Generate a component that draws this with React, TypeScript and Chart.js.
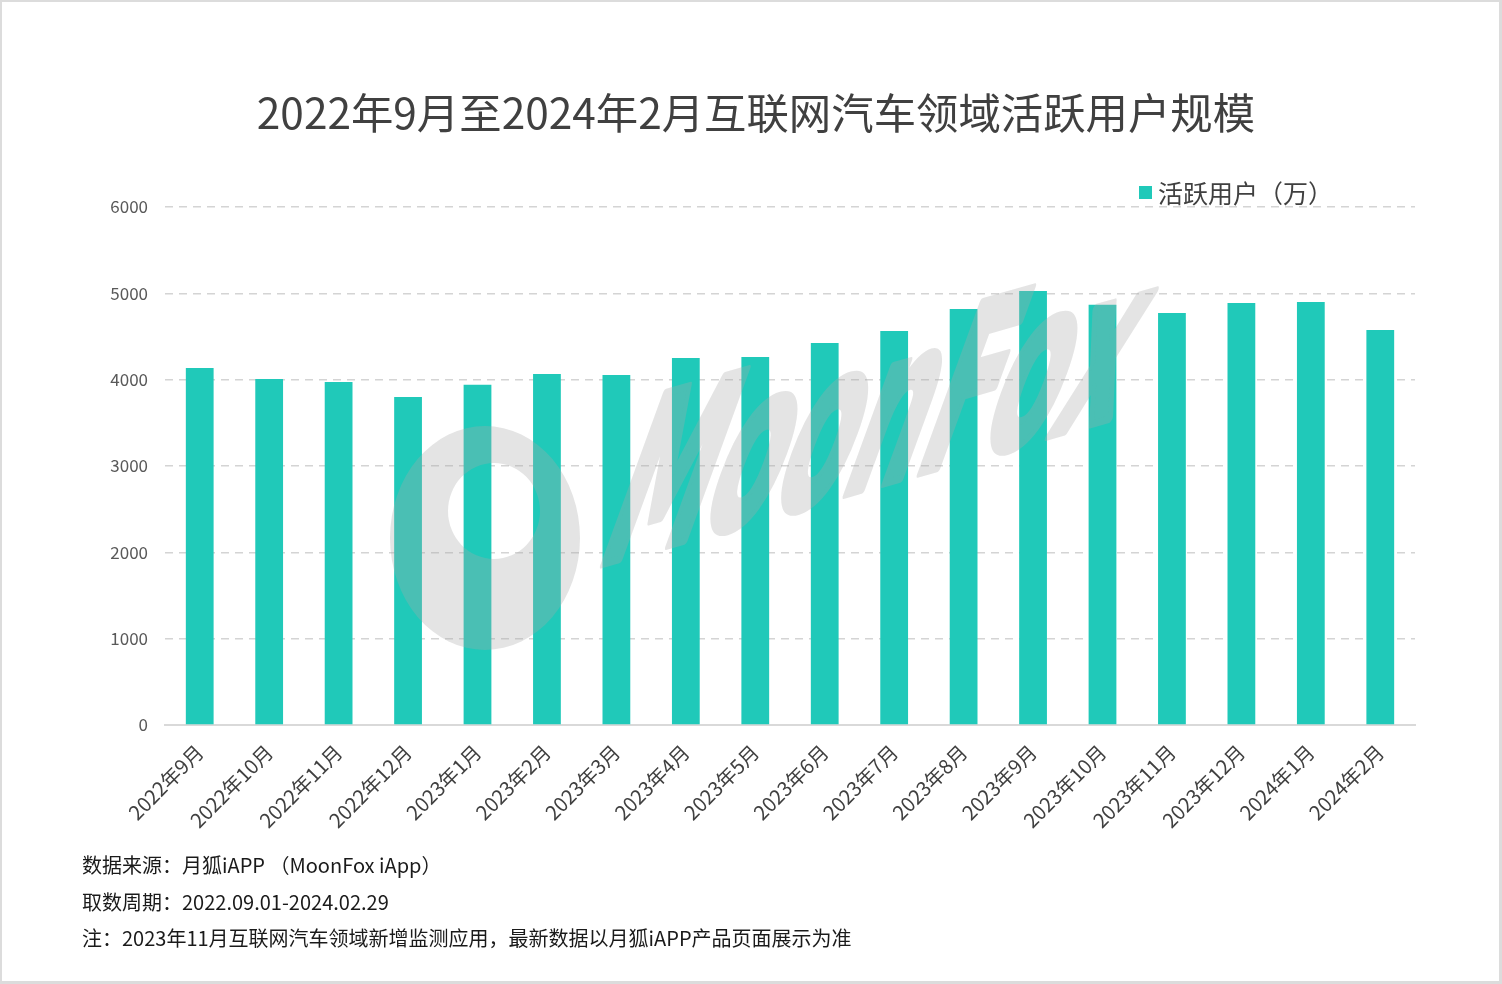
import React, { useEffect, useRef } from "react";
import { Chart, registerables } from "chart.js";

Chart.register(...registerables);

const chartTitle = "2022年9月至2024年2月互联网汽车领域活跃用户规模";
const seriesLabel = "活跃用户（万）";
const categories = [
  "2022年9月", "2022年10月", "2022年11月", "2022年12月",
  "2023年1月", "2023年2月", "2023年3月", "2023年4月", "2023年5月",
  "2023年6月", "2023年7月", "2023年8月", "2023年9月", "2023年10月",
  "2023年11月", "2023年12月", "2024年1月", "2024年2月",
];
const activeUsers = [
  4135, 4008, 3973, 3800, 3940, 4066, 4054, 4251, 4263,
  4425, 4564, 4819, 5027, 4869, 4772, 4888, 4900, 4575,
];
const yMin = 0;
const yMax = 6000;
const yStep = 1000;
const notes = [
  "数据来源：月狐iAPP （MoonFox iApp）",
  "取数周期：2022.09.01-2024.02.29",
  "注：2023年11月互联网汽车领域新增监测应用，最新数据以月狐iAPP产品页面展示为准",
];
const watermarkText = "MoonFox";

const FONT = '"Noto Sans CJK SC", "Noto Sans", sans-serif';
const TEAL = "#20C9B9";
const W = 1502;
const H = 984;

const watermarkPlugin = {
  id: "moonfoxWatermark",
  afterDatasetsDraw(chart: any) {
    const { ctx, chartArea, width, height } = chart;
    const ox = chartArea.left;
    const oy = chartArea.top;
    const off = document.createElement("canvas");
    off.width = width;
    off.height = height;
    const o = off.getContext("2d");
    if (!o) return;
    o.fillStyle = "rgb(169,169,169)";
    o.strokeStyle = "rgb(169,169,169)";
    // logo
    o.beginPath();
    o.ellipse(ox + 320, oy + 331, 95, 112, 0, 0, Math.PI * 2);
    o.ellipse(ox + 329, oy + 304, 46, 48, 0, 0, Math.PI * 2);
    o.fill("evenodd");
    // text (rotated + slanted)
    const a = (16 * Math.PI) / 180;
    const b = (20 * Math.PI) / 180;
    o.save();
    o.translate(ox + 428, oy + 360);
    o.transform(Math.cos(a), -Math.sin(a), -Math.sin(b), Math.cos(b), 0, 0);
    o.font = 'bold 250px "Liberation Sans Narrow", "DejaVu Sans Condensed", "Liberation Sans", sans-serif';
    o.textBaseline = "alphabetic";
    o.textAlign = "left";
    o.lineWidth = 9;
    o.lineJoin = "round";
    o.fillText(watermarkText, 0, 0, 540);
    o.strokeText(watermarkText, 0, 0, 540);
    o.restore();
    ctx.save();
    ctx.globalAlpha = 0.31;
    ctx.drawImage(off, 0, 0);
    ctx.restore();
  },
};

export default function App() {
  const canvasRef = useRef<HTMLCanvasElement | null>(null);

  useEffect(() => {
    if (!canvasRef.current) return;
    const chart = new Chart(canvasRef.current, {
      type: "bar",
      data: {
        labels: categories,
        datasets: [
          {
            label: seriesLabel,
            data: activeUsers,
            backgroundColor: TEAL,
            borderWidth: 0,
            categoryPercentage: 1,
            barPercentage: 0.4,
          },
        ],
      },
      options: {
        responsive: false,
        animation: false,
        devicePixelRatio: 1,
        layout: { padding: { top: 207, right: 87, bottom: 0, left: 0 } },
        plugins: {
          legend: { display: false },
          title: { display: false },
          tooltip: { enabled: false },
        },
        scales: {
          x: {
            grid: { display: false, drawTicks: false },
            border: { display: true, color: "#d9d9d9", width: 2 },
            ticks: {
              autoSkip: false,
              maxRotation: 45,
              minRotation: 45,
              padding: 15,
              color: "#404040",
              font: { family: FONT, size: 20 },
            },
            afterFit: (scale: any) => {
              scale.height = 259;
            },
          },
          y: {
            min: yMin,
            max: yMax,
            ticks: {
              stepSize: yStep,
              padding: 17,
              color: "#595959",
              font: { family: FONT, size: 17 },
              callback: (v: any) => String(v),
            },
            grid: {
              drawTicks: false,
              lineWidth: 1.5,
              color: (ctx: any) => (ctx.tick && ctx.tick.value === 0 ? "rgba(0,0,0,0)" : "#d4d4d4"),
            },
            border: { display: false, dash: [8, 6] },
            afterFit: (scale: any) => {
              scale.width = 165;
            },
          },
        },
      },
      plugins: [watermarkPlugin],
    });
    return () => chart.destroy();
  }, []);

  return (
    <div
      style={{
        position: "absolute",
        left: 0,
        top: 0,
        width: W,
        height: H,
        background: "#ffffff",
        overflow: "hidden",
        fontFamily: FONT,
      }}
    >
      <canvas ref={canvasRef} width={W} height={H} style={{ position: "absolute", left: 0, top: 0 }} />
      <div
        style={{
          position: "absolute",
          left: 5,
          top: 90,
          width: W,
          textAlign: "center",
          fontSize: 42.4,
          lineHeight: "42px",
          color: "#404040",
          whiteSpace: "nowrap",
        }}
      >
        {chartTitle}
      </div>
      <div
        style={{
          position: "absolute",
          left: 1139,
          top: 180,
          height: 24,
          display: "flex",
          alignItems: "center",
          whiteSpace: "nowrap",
        }}
      >
        <span style={{ display: "inline-block", width: 13, height: 13, background: TEAL, marginRight: 6 }} />
        <span style={{ fontSize: 25, lineHeight: "25px", color: "#404040" }}>{seriesLabel}</span>
      </div>
      {notes.map((t, i) => (
        <div
          key={i}
          style={{
            position: "absolute",
            left: 82,
            top: 855 + i * 36.5,
            fontSize: 20,
            lineHeight: "20px",
            color: "#1a1a1a",
            whiteSpace: "nowrap",
          }}
        >
          {t}
        </div>
      ))}
      <div
        style={{
          position: "absolute",
          left: 0,
          top: 0,
          width: W,
          height: H,
          boxSizing: "border-box",
          borderTop: "2px solid #dcdcdc",
          borderLeft: "2px solid #dcdcdc",
          borderRight: "3px solid #dcdcdc",
          borderBottom: "3px solid #dcdcdc",
          pointerEvents: "none",
        }}
      />
    </div>
  );
}
